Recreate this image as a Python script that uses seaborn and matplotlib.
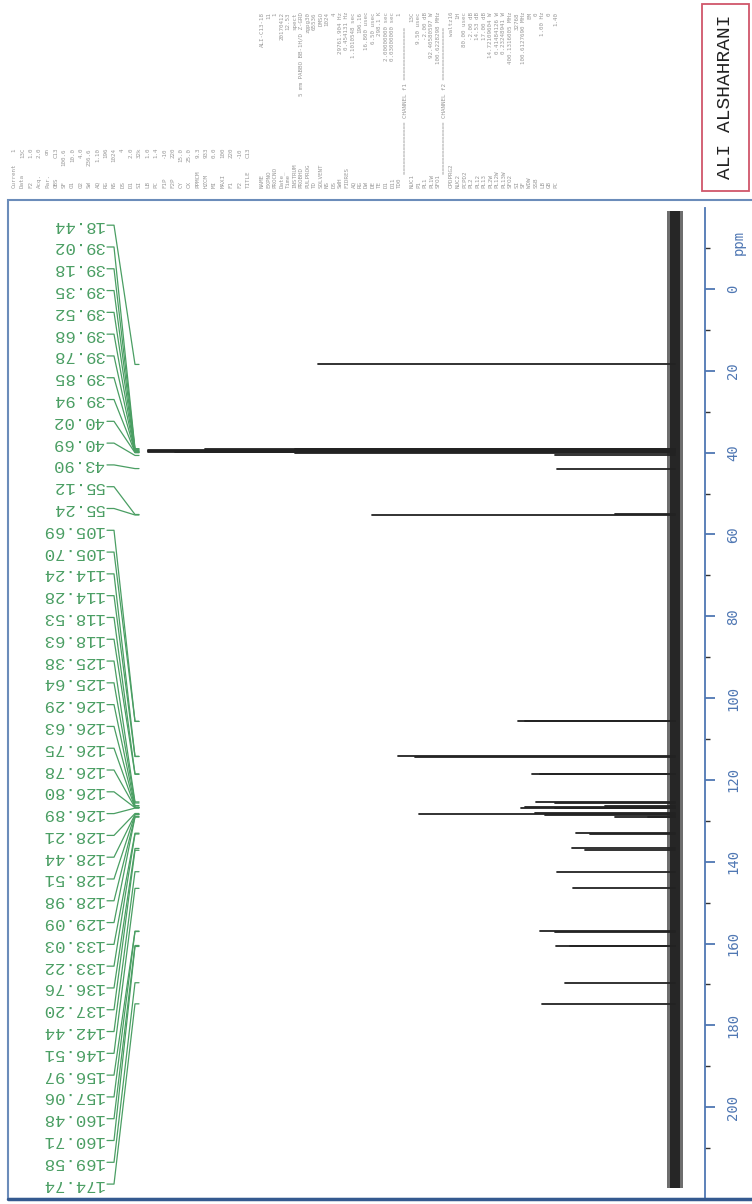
import numpy as np
import pandas as pd
import seaborn as sns
import matplotlib.pyplot as plt
from matplotlib.patches import Rectangle
from matplotlib.lines import Line2D
from matplotlib.ticker import FixedLocator
from matplotlib.transforms import blended_transform_factory

# ==========================================
# Data
# ==========================================

# peak list as printed on the left, top to bottom (ppm)
peak_ppm = [18.44, 39.02, 39.18, 39.35, 39.52, 39.68, 39.78, 39.85, 39.94, 40.02,
            40.69, 43.90, 55.12, 55.24, 105.69, 105.70, 114.24, 114.28, 118.53,
            118.63, 125.38, 125.64, 126.29, 126.63, 126.75, 126.78, 126.80, 126.89,
            128.21, 128.44, 128.51, 128.98, 129.09, 133.03, 133.22, 136.76, 137.20,
            142.44, 146.51, 156.97, 157.06, 160.48, 160.71, 169.58, 174.74]

# stick height above the baseline (scan pixels)
peak_height = [357, 380, 470, 527, 527, 527, 500, 527, 470, 380,
               120, 118, 60, 303, 157, 150, 277, 260, 143,
               135, 139, 120, 70, 150, 110, 100, 120, 154,
               140, 256, 130, 60, 27, 99, 85, 103, 90,
               118, 102, 135, 120, 119, 105, 110, 133]

ppm_window = [-19.0, 219.8]     # extent of the recorded trace
noise_level = 5                 # dense part of the noise band
noise_spikes = 8                # outer spikes of the noise band

# ppm axis
ppm_major = [0, 20, 40, 60, 80, 100, 120, 140, 160, 180, 200]
ppm_minor = [-10, 10, 30, 50, 70, 90, 110, 130, 150, 170, 190, 210]

# acquisition / processing parameters (too small to read in the scan)
param_names = ["NAME", "EXPNO", "PROCNO", "Date_", "Time", "INSTRUM", "PROBHD",
               "PULPROG", "TD", "SOLVENT", "NS", "DS", "SWH", "FIDRES", "AQ", "RG",
               "DW", "DE", "TE", "D1", "D11", "TD0",
               "=============== CHANNEL f1 ===============",
               "NUC1", "P1", "PL1", "PL1W", "SFO1",
               "=============== CHANNEL f2 ===============",
               "CPDPRG2", "NUC2", "PCPD2", "PL2", "PL12", "PL13", "PL2W", "PL12W",
               "PL13W", "SFO2", "SI", "SF", "WDW", "SSB", "LB", "GB", "PC"]
param_values = ["ALI-C13-18", "11", "1", "20170412", "12.53", "spect",
                "5 mm PABBO BB-1H/D Z-GRD", "zgpg30", "65536", "DMSO", "1024", "4",
                "29761.904 Hz", "0.454131 Hz", "1.1010548 sec", "196.16",
                "16.800 usec", "6.50 usec", "298.1 K", "2.00000000 sec",
                "0.03000000 sec", "1", "", "13C", "9.50 usec", "-2.00 dB",
                "92.40580597 W", "100.6228298 MHz", "", "waltz16", "1H",
                "80.00 usec", "-2.00 dB", "14.53 dB", "17.00 dB", "14.72109604 W",
                "0.41484126 W", "0.23248941 W", "400.1316005 MHz", "32768",
                "100.6127690 MHz", "EM", "0", "1.00 Hz", "0", "1.40"]

left_names = ["Current", "Data", "F2", "Acq.", "Par.", "OBS", "SF", "O1", "O2",
              "SW", "AQ", "RG", "NS", "DS", "D1", "SI", "LB", "PC", "F1P", "F2P",
              "CY", "CX", "PPMCM", "HZCM", "MI", "MAXI", "F1", "F2", "TITLE"]
left_values = ["1", "13C", "1.0", "2.0", "on", "C13", "100.6", "10.0", "4.0",
               "236.6", "1.10", "196", "1024", "4", "2.0", "32k", "1.0", "1.4",
               "-10", "220", "15.0", "25.0", "9.3", "933", "0.0", "100", "220",
               "-10", "C13"]

owner = "ALI ALSHAHRANI"

# ==========================================
# Figure / layout (scan pixels)
# ==========================================

W, H = 752, 1204
green = "#4a9e63"
blue = "#4f77b3"

sns.set_theme(style="white")
plt.rcParams['font.family'] = ['DejaVu Sans']

fig = plt.figure(figsize=(W / 100, H / 100), dpi=100)

# spectrum axes: x = intensity (peaks grow to the left), y = ppm (down)
ax_left, ax_right, ax_top, ax_bot = 10, 705, 208, 1198
ax = fig.add_axes([ax_left / W, 1 - ax_bot / H,
                   (ax_right - ax_left) / W, (ax_bot - ax_top) / H])
ax.patch.set_alpha(0)

# noise band along the baseline
ax.fill_betweenx(ppm_window, -noise_spikes, noise_spikes, color="#6e6e6e", lw=0)
ax.fill_betweenx(ppm_window, -noise_level, noise_level, color="#262626", lw=0)

# stick spectrum
rows = []
for i, (p, h) in enumerate(zip(peak_ppm, peak_height)):
    rows.append({"ppm": p, "intensity": 0, "peak": i})
    rows.append({"ppm": p, "intensity": h, "peak": i})
spec = pd.DataFrame(rows)

sns.lineplot(data=spec, x="intensity", y="ppm", units="peak", estimator=None,
             orient="y", sort=False, color="#222222", lw=1.3, legend=False, ax=ax)

ax.set_xlim(675 - ax_left, 675 - ax_right)
ax.set_ylim(222.2, -19.8)
ax.set_xlabel("")
ax.set_ylabel("")
ax.set_xticks([])

# ppm axis on the right
for s in ["left", "top", "bottom"]:
    ax.spines[s].set_visible(False)
ax.spines["right"].set_color(blue)
ax.spines["right"].set_linewidth(1.3)
ax.yaxis.tick_right()
ax.yaxis.set_major_locator(FixedLocator(ppm_major))
ax.yaxis.set_minor_locator(FixedLocator(ppm_minor))
ax.tick_params(axis="y", which="major", direction="out", length=7, width=1.3,
               color=blue, labelcolor=blue, labelsize=10, pad=8, labelrotation=90)
ax.tick_params(axis="y", which="minor", direction="out", length=3.5, width=1.0,
               color="#333333")
for lab in ax.get_yticklabels():
    lab.set_family("DejaVu Sans Mono")
    lab.set_va("center")
ax.annotate("ppm", xy=(1, -11.5), xycoords=("axes fraction", "data"),
            xytext=(19, 0), textcoords="offset points", rotation=90,
            ha="left", va="center", color=blue, fontsize=10,
            family="DejaVu Sans Mono")

# ==========================================
# Peak labels with connectors
# ==========================================

def fx(px):
    return (px - ax_left) / (ax_right - ax_left)

trans = blended_transform_factory(ax.transAxes, ax.transData)
label_slots = np.linspace(-15.6, 218.8, len(peak_ppm))

for ly, p in zip(label_slots, peak_ppm):
    ax.text(fx(104), ly, f"{p:.2f}", transform=trans, rotation=180,
            ha="right", va="center", color=green, fontsize=12.5,
            family="Liberation Mono")
    ax.plot([fx(107), fx(114), fx(135), fx(139)], [ly, ly, p, p],
            transform=trans, color=green, lw=0.9, clip_on=False)

# ==========================================
# Frame, header block, owner box
# ==========================================

fig.add_artist(Rectangle((8 / W, 5 / H), (W + 10) / W, (1199 - 200) / H,
                         transform=fig.transFigure, fill=False,
                         ec="#6b8cba", lw=1.5))
fig.add_artist(Line2D([8 / W, 1], [5 / H, 5 / H], transform=fig.transFigure,
                      color="#34598f", lw=2.5))

gray = "#999999"
xs = np.linspace(262, 556, len(param_names))
for x, name, val in zip(xs, param_names, param_values):
    if name.startswith("="):
        fig.text(x / W, 1 - 100 / H, name, rotation=90, ha="center", va="center",
                 fontsize=4.2, color=gray, family="DejaVu Sans Mono")
        continue
    fig.text(x / W, 1 - 188 / H, name, rotation=90, ha="center", va="bottom",
             fontsize=4.2, color=gray, family="DejaVu Sans Mono")
    fig.text(x / W, 1 - 12 / H, val, rotation=90, ha="center", va="top",
             fontsize=4.2, color=gray, family="DejaVu Sans Mono")

xs = np.linspace(14, 248, len(left_names))
for x, name, val in zip(xs, left_names, left_values):
    fig.text(x / W, 1 - 188 / H, name, rotation=90, ha="center", va="bottom",
             fontsize=4.2, color=gray, family="DejaVu Sans Mono")
    fig.text(x / W, 1 - 148 / H, val, rotation=90, ha="center", va="top",
             fontsize=4.2, color=gray, family="DejaVu Sans Mono")

fig.add_artist(Rectangle((702 / W, 1 - 191 / H), 47 / W, 187 / H,
                         transform=fig.transFigure, fill=False,
                         ec="#d0566a", lw=1.3))
fig.text(725 / W, 1 - 97 / H, owner, rotation=90, ha="center", va="center",
         fontsize=14, color="#222222", family="Liberation Mono")

fig.savefig("out.png", dpi=100)
